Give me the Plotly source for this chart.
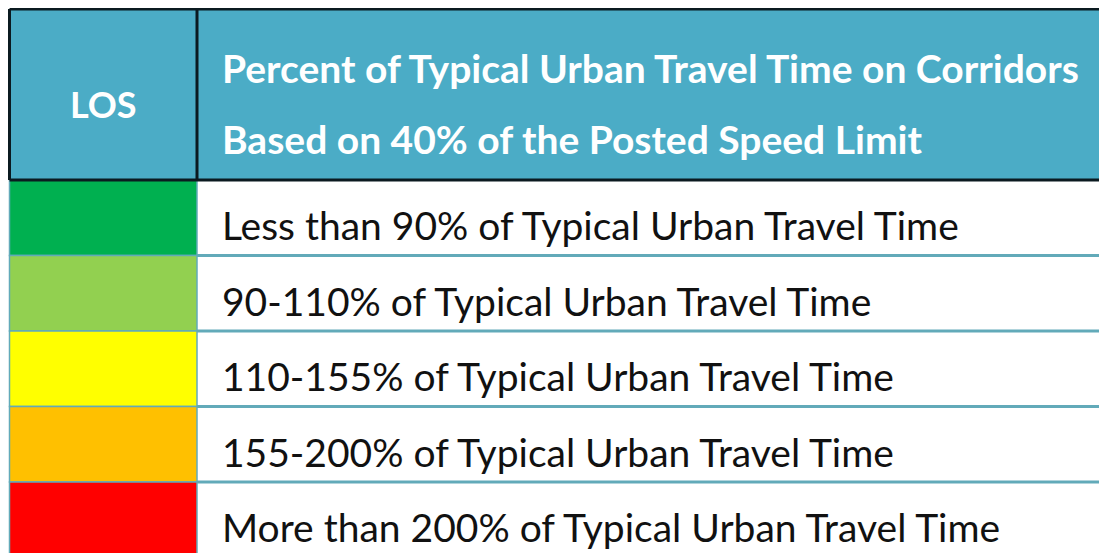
import plotly.graph_objects as go

# ---- data ----
header_los = "LOS"
header_desc_lines = [
    "Percent of Typical Urban Travel Time on Corridors",
    "Based on 40% of the Posted Speed Limit",
]
los_colors = ["#00B050", "#92D050", "#FFFF00", "#FFC000", "#FF0000"]
descriptions = [
    "Less than 90% of Typical Urban Travel Time",
    "90-110% of Typical Urban Travel Time",
    "110-155% of Typical Urban Travel Time",
    "155-200% of Typical Urban Travel Time",
    "More than 200% of Typical Urban Travel Time",
]

# ---- layout constants (page pixels; the page body has an 8px margin) ----
PAGE_W, PAGE_H, BODY_MARGIN = 1107, 553, 8
left, col_div, right = 9.5, 197, 1115
top, header_bottom = 9, 180
row_h = 75.5
text_x = 220
header_blue = "#4BACC6"
row_line = "#62AAB9"
font_family = "Lato"

fig = go.Figure()
shapes = []
annotations = []

# header background
shapes.append(dict(type="rect", x0=left, x1=right, y0=top, y1=header_bottom,
                   fillcolor=header_blue, line=dict(width=0), layer="below"))

# body rows
for i, (c, txt) in enumerate(zip(los_colors, descriptions)):
    y0 = header_bottom + i * row_h
    y1 = y0 + row_h
    shapes.append(dict(type="rect", x0=left, x1=col_div, y0=y0, y1=y1,
                       fillcolor=c, line=dict(color=row_line, width=1.5)))
    shapes.append(dict(type="line", x0=col_div, x1=right, y0=y1, y1=y1,
                       line=dict(color=row_line, width=3)))
    annotations.append(dict(x=text_x, y=y0 + 45, text=txt, showarrow=False,
                            xanchor="left", yanchor="middle",
                            font=dict(family=font_family, size=39, color="#111111")))

# header borders (black)
for (x0, y0, x1, y1) in [(left, top, right, top), (left, header_bottom, right, header_bottom),
                         (left, top, left, header_bottom), (col_div, top, col_div, header_bottom)]:
    shapes.append(dict(type="line", x0=x0, y0=y0, x1=x1, y1=y1,
                       line=dict(color="#0B1A20", width=3)))

annotations.append(dict(x=(left + col_div) / 2, y=104, text=header_los, showarrow=False,
                        xanchor="center", yanchor="middle",
                        font=dict(family=font_family, size=36, color="white", weight="bold")))
for j, line in enumerate(header_desc_lines):
    annotations.append(dict(x=text_x, y=67.5 + j * 71, text=line, showarrow=False,
                            xanchor="left", yanchor="middle",
                            font=dict(family=font_family, size=39, color="white", weight="bold")))

fig.add_trace(go.Scatter(x=[BODY_MARGIN, PAGE_W], y=[BODY_MARGIN, PAGE_H], mode="markers",
                         marker=dict(opacity=0), hoverinfo="skip", showlegend=False))
fig.update_layout(
    width=PAGE_W - BODY_MARGIN, height=PAGE_H - BODY_MARGIN,
    margin=dict(l=0, r=0, t=0, b=0),
    paper_bgcolor="white", plot_bgcolor="white",
    xaxis=dict(range=[BODY_MARGIN, PAGE_W], visible=False, fixedrange=True),
    yaxis=dict(range=[PAGE_H, BODY_MARGIN], visible=False, fixedrange=True),
    shapes=shapes, annotations=annotations,
)
fig.write_html("out.html")
